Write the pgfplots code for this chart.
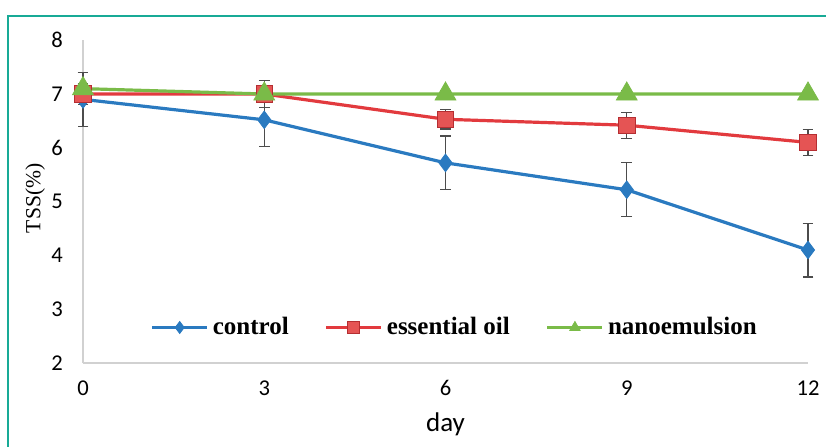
\documentclass[border=0pt]{standalone}
\usepackage{fontspec}
\setmainfont{Liberation Serif}
\newfontfamily\carlito{Carlito}
\usepackage{pgfplots}
\usepackage{pgfplotstable}
\pgfplotsset{compat=1.18}

\definecolor{ctrl}{RGB}{42,122,192}
\definecolor{oil}{RGB}{226,58,62}
\definecolor{oilfill}{RGB}{229,84,84}
\definecolor{nano}{RGB}{122,187,72}
\definecolor{boxframe}{RGB}{24,170,150}

% day, TSS, standard deviation
\pgfplotstableread{
day tss err
0  6.90 0.50
3  6.52 0.50
6  5.72 0.50
9  5.22 0.50
12 4.10 0.50
}\control
\pgfplotstableread{
day tss err
0  7.00 0.20
3  7.00 0.25
6  6.53 0.18
9  6.42 0.24
12 6.10 0.24
}\essentialoil
\pgfplotstableread{
day tss err
0  7.10 0.05
3  7.00 0.05
6  7.00 0.07
9  7.00 0.07
12 7.00 0.07
}\nanoemulsion

\begin{document}
\begin{tikzpicture}
\clip (0,0) rectangle (413pt,223pt);
\draw[boxframe, line width=1.1pt] (4pt,-20pt) rectangle (440pt,215pt);
\begin{axis}[
  at={(41.5pt,41.5pt)}, anchor=south west,
  scale only axis, width=362.5pt, height=161.4pt,
  xmin=0, xmax=12, ymin=2, ymax=8,
  xtick={0,3,6,9,12}, ytick={2,3,4,5,6,7,8},
  axis lines*=left,
  axis line style={draw=black!18, line width=0.9pt},
  major tick length=0pt,
  /pgf/number format/assume math mode=true,
  ticklabel style={font=\carlito\fontsize{11.3}{13}\selectfont},
  xticklabel style={anchor=center, yshift=-12.5pt},
  yticklabel style={anchor=center, xshift=-13pt},
  xlabel={day},
  xlabel style={font=\carlito\fontsize{13.5}{15}\selectfont, at={(rel axis cs:0.5,-0.19)}, anchor=center},
  ylabel={TSS(\%)},
  ylabel style={font=\fontsize{10.8}{12}\selectfont, at={(rel axis cs:-0.066,0.51)}, anchor=center},
  clip=false,
  legend style={at={(rel axis cs:0.514,0.11)}, anchor=center, draw=none, fill=none,
    font=\bfseries\fontsize{12.5}{14}\selectfont, legend columns=3,
    /tikz/every even column/.append style={column sep=16pt},
    inner sep=0pt},
  legend image code/.code={%
    \draw[mark repeat=2, mark phase=2, #1, mark size=3pt]
      plot coordinates {(0pt,0pt) (13.75pt,0pt) (27.5pt,0pt)};},
  every axis plot/.append style={line width=1.6pt},
  error bars/error bar style={black!70, line width=0.6pt},
  error bars/error mark options={rotate=90, mark size=2.7pt, black!70, line width=0.6pt},
]
\addplot[ctrl, mark=diamond*, mark size=4.4pt, mark options={fill=ctrl, draw=ctrl, line width=0.4pt},
  error bars/.cd, y dir=both, y explicit]
  table[x=day, y=tss, y error=err] {\control};
\addlegendentry{control}
\addplot[oil, mark=square*, mark size=4.1pt, mark options={fill=oilfill, draw=oil!80!black, line width=0.4pt},
  error bars/.cd, y dir=both, y explicit]
  table[x=day, y=tss, y error=err] {\essentialoil};
\addlegendentry{essential oil}
\addplot[nano, mark=triangle*, mark size=6pt, mark options={fill=nano, draw=nano, line width=0.4pt},
  error bars/.cd, y dir=both, y explicit]
  table[x=day, y=tss, y error=err] {\nanoemulsion};
\addlegendentry{nanoemulsion}
\end{axis}
\end{tikzpicture}
\end{document}
